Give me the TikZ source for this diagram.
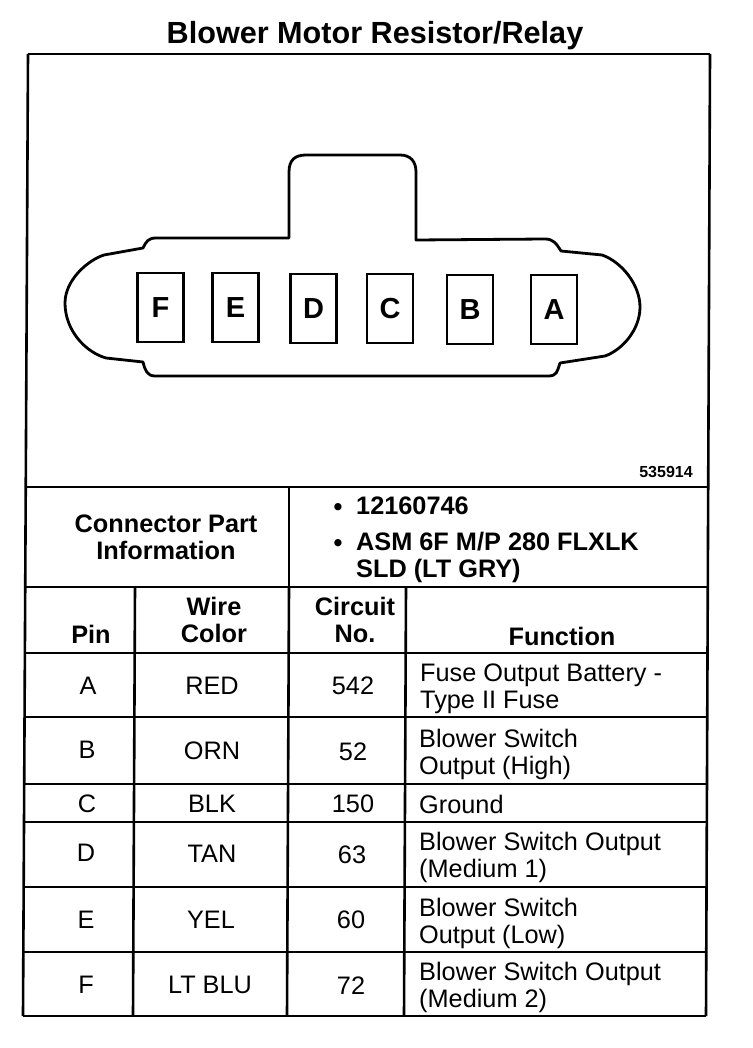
\documentclass[tikz,border=0pt]{standalone}
\usepackage{fontspec}
\setmainfont{Liberation Sans}
\usetikzlibrary{positioning}
\tikzset{
  rule/.style={line width=2.6pt},
  pinbox/.style={draw,line width=2.6pt,minimum width=46pt,minimum height=69pt,inner sep=0pt,font=\fontsize{29}{30}\selectfont\bfseries},
  cell/.style={inner sep=0pt,align=center,font=\fontsize{25.3}{27}\selectfont},
  head/.style={cell,font=\fontsize{25.3}{27}\selectfont\bfseries},
  func/.style={cell,anchor=west,align=left}
}
\begin{document}
\begin{tikzpicture}[x=1pt,y=-1pt]
        \useasboundingbox (0,0) rectangle (752,1048);

        \node[head,font=\fontsize{30.6}{32}\selectfont\bfseries] (Title) at (375,36) {Blower Motor Resistor/Relay};

        % frame corners and table rows
        \coordinate (T0) at (28,54);    \coordinate (U0) at (710,54);
        \coordinate (T1) at (27,487);   \coordinate (U1) at (709,487);
        \coordinate (T2) at (26,587);   \coordinate (U2) at (708,587);
        \coordinate (T3) at (26,653);   \coordinate (U3) at (708,653);
        \coordinate (T4) at (25,717);   \coordinate (U4) at (707,717);
        \coordinate (T5) at (25,784);   \coordinate (U5) at (707,784);
        \coordinate (T6) at (25,822);   \coordinate (U6) at (707,822);
        \coordinate (T7) at (24,887);   \coordinate (U7) at (707,887);
        \coordinate (T8) at (24,952);   \coordinate (U8) at (706,952);
        \coordinate (T9) at (23,1016);  \coordinate (U9) at (706,1016);

        % column rules
        \coordinate (C0) at (289,487);  \coordinate (C1) at (289,587);
        \coordinate (P0) at (135,587);  \coordinate (P1) at (133,1016);
        \coordinate (W0) at (289,587);  \coordinate (W1) at (287,1016);
        \coordinate (N0) at (406,587);  \coordinate (N1) at (404,1016);

        \path[rule]
                  (T0) edge (U0)
                       edge (T9)
                  (U0) edge (U9)
                  (T1) edge (U1)
                  (T2) edge (U2)
                  (T3) edge (U3)
                  (T4) edge (U4)
                  (T5) edge (U5)
                  (T6) edge (U6)
                  (T7) edge (U7)
                  (T8) edge (U8)
                  (T9) edge (U9)
                  (C0) edge (C1)
                  (P0) edge (P1)
                  (W0) edge (W1)
                  (N0) edge (N1);

        % connector outline
        \draw[line width=2.8pt,line join=round]
              (289,238) -- (289,172) .. controls (289,160) and (295,155) .. (306,155)
              -- (400,155) .. controls (411,155) and (416,162) .. (416,172)
              -- (416,240) -- (545,239) .. controls (553,239) and (556,243) .. (561,251)
              -- (602,255) .. controls (622,262) and (640,285) .. (640,307)
              .. controls (640,330) and (622,350) .. (605,356)
              -- (560,363) .. controls (557,372) and (557,376) .. (548,376)
              -- (155,376) .. controls (147,376) and (145,370) .. (143,362)
              -- (106,358) .. controls (85,352) and (65,330) .. (65,303)
              .. controls (65,280) and (88,260) .. (104,255)
              -- (143,248) .. controls (146,242) and (148,238) .. (156,238)
              -- cycle;

        \node[pinbox] (PinF) at (160.5,307.5) {F};
        \node[pinbox] (PinE) at (235.5,307.5) {E};
        \node[pinbox] (PinD) at (313.5,308.5) {D};
        \node[pinbox] (PinC) at (390,308.5)   {C};
        \node[pinbox] (PinB) at (470,309.5)   {B};
        \node[pinbox] (PinA) at (554,309.5)   {A};

        \node[cell,font=\fontsize{16}{18}\selectfont\bfseries] (Code) at (666,472) {535914};

        % part information
        \node[head] (PartInfo) at (166,537) {Connector Part\\Information};
        \node[head] (Bullet1)  at (338,510) {•};
        \node[head,anchor=west] (PartNo)  at (356,506) {12160746};
        \node[head] (Bullet2)  at (338,546) {•};
        \node[head,anchor=west,align=left] (PartName) at (356,557) {ASM 6F M/P 280 FLXLK\\SLD (LT GRY)};

        % column heads
        \node[head] (HeadPin)  at (91,634)   {Pin};
        \node[head] (HeadWire) at (214,620)  {Wire\\Color};
        \node[head] (HeadNo)   at (355,620)  {Circuit\\No.};
        \node[head] (HeadFunc) at (562,636)  {Function};

        % rows
        \node[cell] (RowA) at (88,686)  {A};
        \node[cell] (WireA) at (212,686) {RED};
        \node[cell] (NoA)   at (353,686) {542};
        \node[func] (FuncA) at (420,689) {Fuse Output Battery -\\Type II Fuse};

        \node[cell] (RowB) at (87,750)  {B};
        \node[cell] (WireB) at (212,751) {ORN};
        \node[cell] (NoB)   at (353,752) {52};
        \node[func] (FuncB) at (419,754) {Blower Switch\\Output (High)};

        \node[cell] (RowC) at (87,804)  {C};
        \node[cell] (WireC) at (212,804) {BLK};
        \node[cell] (NoC)   at (353,804) {150};
        \node[func] (FuncC) at (419,804) {Ground};

        \node[cell] (RowD) at (86,853)  {D};
        \node[cell] (WireD) at (212,854) {TAN};
        \node[cell] (NoD)   at (352,855) {63};
        \node[func] (FuncD) at (419,857) {Blower Switch Output\\(Medium 1)};

        \node[cell] (RowE) at (86,920)  {E};
        \node[cell] (WireE) at (211,920) {YEL};
        \node[cell] (NoE)   at (351,920) {60};
        \node[func] (FuncE) at (419,923) {Blower Switch\\Output (Low)};

        \node[cell] (RowF) at (86,985)  {F};
        \node[cell] (WireF) at (210,985) {LT BLU};
        \node[cell] (NoF)   at (351,986) {72};
        \node[func] (FuncF) at (419,987) {Blower Switch Output\\(Medium 2)};
\end{tikzpicture}
\end{document}
